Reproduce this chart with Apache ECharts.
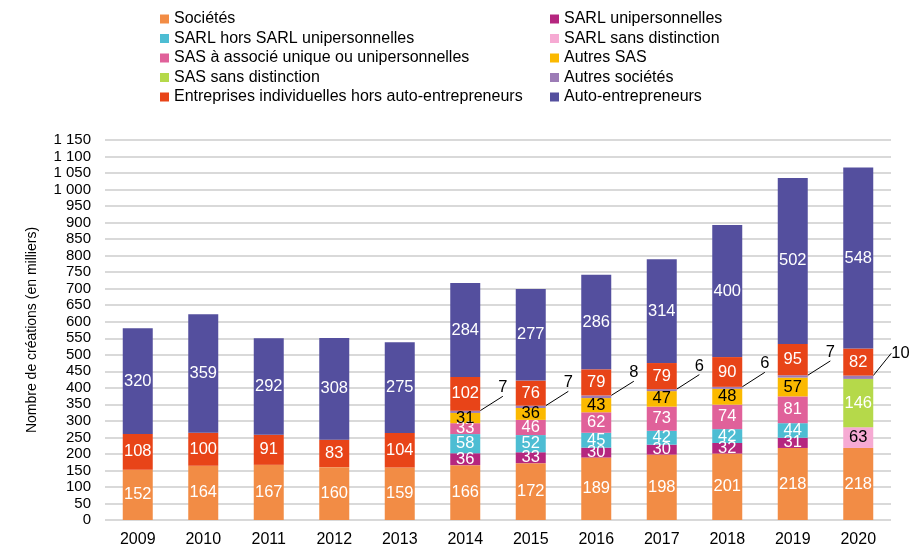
<!DOCTYPE html>
<html>
<head>
<meta charset="utf-8">
<script src="https://cdn.jsdelivr.net/npm/echarts@6/dist/echarts.min.js"></script>
<style>
  html, body { margin: 0; padding: 0; background: #fff; }
  #main { width: 910px; height: 548px; }
</style>
</head>
<body>
<div id="main"></div>
<script>
var years = ['2009', '2010', '2011', '2012', '2013', '2014', '2015', '2016', '2017', '2018', '2019', '2020'];

var societes = [152, 164, 167, 160, 159, 166, 172, 189, 198, 201, 218, 218];
var sarlUni = [null, null, null, null, null, 36, 33, 30, 30, 32, 31, null];
var sarlHors = [null, null, null, null, null, 58, 52, 45, 42, 42, 44, null];
var sarlSans = [null, null, null, null, null, null, null, null, null, null, null, 63];
var sasUni = [null, null, null, null, null, 33, 46, 62, 73, 74, 81, null];
var autresSas = [null, null, null, null, null, 31, 36, 43, 47, 48, 57, null];
var sasSans = [null, null, null, null, null, null, null, null, null, null, null, 146];
var autresSocietes = [null, null, null, null, null, 7, 7, 8, 6, 6, 7, 10];
var entreprisesInd = [108, 100, 91, 83, 104, 102, 76, 79, 79, 90, 95, 82];
var autoEntrepreneurs = [320, 359, 292, 308, 275, 284, 277, 286, 314, 400, 502, 548];

var FONT = "'Liberation Sans', Arial, sans-serif";
var myChart = echarts.init(document.getElementById('main'));

function fmt(v) {
    var s = String(v);
    if (v >= 1000) {
        s = s.slice(0, s.length - 3) + ' ' + s.slice(s.length - 3);
    }
    return s;
}

function mkSeries(name, data, color, labelColor) {
    return {
        name: name,
        type: 'bar',
        stack: 'total',
        data: data,
        barWidth: 30,
        itemStyle: {color: color},
        label: {
            show: true,
            position: 'inside',
            color: labelColor || '#fff',
            fontFamily: FONT,
            fontSize: 16.5
        }
    };
}

var series = [
    mkSeries('Sociétés', societes, '#F28C45'),
    mkSeries('SARL unipersonnelles', sarlUni, '#B5267F'),
    mkSeries('SARL hors SARL unipersonnelles', sarlHors, '#4DBDD3'),
    mkSeries('SARL sans distinction', sarlSans, '#F6AAD3', '#000'),
    mkSeries('SAS à associé unique ou unipersonnelles', sasUni, '#E0619A'),
    mkSeries('Autres SAS', autresSas, '#FBB900', '#000'),
    mkSeries('SAS sans distinction', sasSans, '#B5D94A'),
    {
        name: 'Autres sociétés',
        type: 'bar',
        stack: 'total',
        data: autresSocietes,
        barWidth: 30,
        itemStyle: {color: '#9C7CB6'},
        label: {
            show: true,
            position: 'right',
            distance: 4,
            color: '#000',
            fontFamily: FONT,
            fontSize: 16.5
        },
        labelLayout: {dx: 14, dy: -24},
        labelLine: {show: true, lineStyle: {color: '#000', width: 1}}
    },
    mkSeries('Entreprises individuelles hors auto-entrepreneurs', entreprisesInd, '#E84418'),
    mkSeries('Auto-entrepreneurs', autoEntrepreneurs, '#544F9E')
];

var legendText = {
    fontFamily: FONT,
    fontSize: 16,
    lineHeight: 16,
    color: '#000'
};

option = {
    animation: false,
    legend: [{
        left: 155,
        top: 6,
        orient: 'vertical',
        itemWidth: 9,
        itemHeight: 9,
        itemGap: 3.5,
        icon: 'rect',
        textStyle: legendText,
        data: ['Sociétés', 'SARL hors SARL unipersonnelles', 'SAS à associé unique ou unipersonnelles',
            'SAS sans distinction', 'Entreprises individuelles hors auto-entrepreneurs']
    }, {
        left: 545,
        top: 6,
        orient: 'vertical',
        itemWidth: 9,
        itemHeight: 9,
        itemGap: 3.5,
        icon: 'rect',
        textStyle: legendText,
        data: ['SARL unipersonnelles', 'SARL sans distinction', 'Autres SAS',
            'Autres sociétés', 'Auto-entrepreneurs']
    }],
    grid: {
        left: 105,
        right: 19,
        top: 140,
        bottom: 27
    },
    xAxis: {
        type: 'category',
        data: years,
        axisLine: {show: false},
        axisTick: {show: false},
        axisLabel: {
            color: '#000',
            fontFamily: FONT,
            fontSize: 16,
            margin: 12
        }
    },
    yAxis: {
        type: 'value',
        min: 0,
        max: 1150,
        interval: 50,
        name: 'Nombre de créations (en milliers)',
        nameLocation: 'middle',
        nameGap: 66,
        nameTextStyle: {
            color: '#000',
            fontFamily: FONT,
            fontSize: 14
        },
        axisLine: {show: false},
        axisTick: {show: false},
        axisLabel: {
            color: '#000',
            fontFamily: FONT,
            fontSize: 15,
            margin: 14,
            formatter: fmt
        },
        splitLine: {
            lineStyle: {color: '#D9D9D9', width: 2}
        }
    },
    series: series
};

myChart.setOption(option);
</script>
</body>
</html>
